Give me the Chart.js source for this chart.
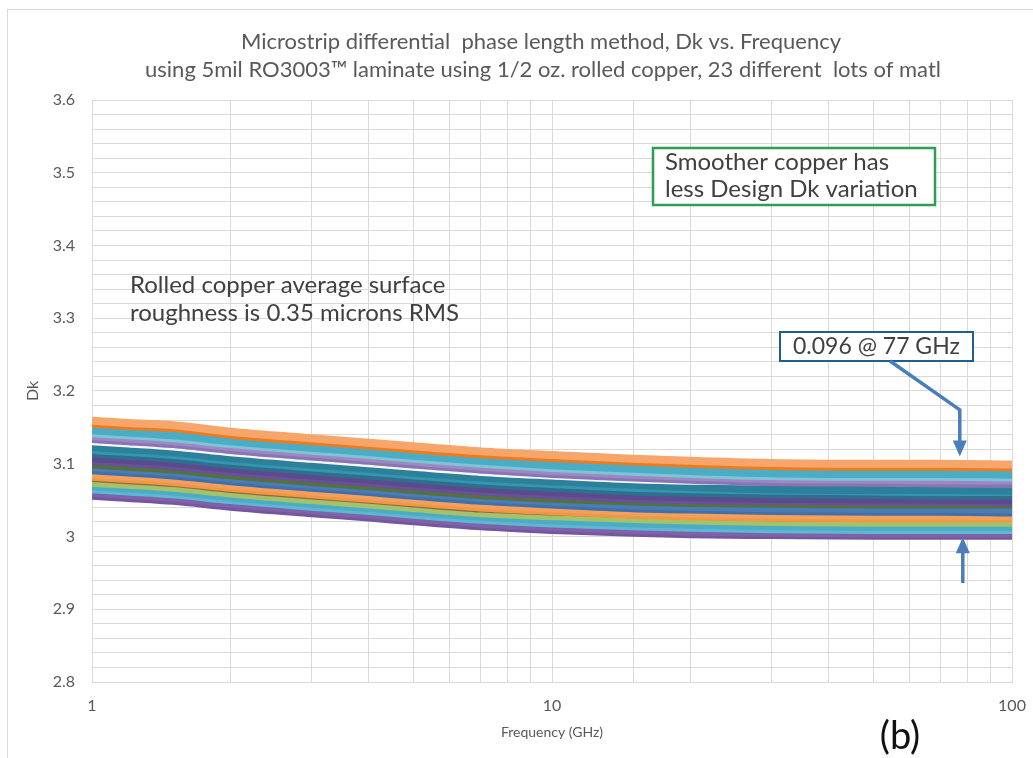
<!DOCTYPE html>
<html>
<head>
<meta charset="utf-8">
<script src="https://cdn.jsdelivr.net/npm/chart.js@4.4.0/dist/chart.umd.min.js"></script>
<style>
    html, body { margin: 0; padding: 0; background: #fff; }
    #wrap { width: 1033px; height: 758px; }
</style>
</head>
<body>
<div id="wrap"><canvas id="dkChart" width="1033" height="758"></canvas></div>
<script>
// Frequency points (GHz) read along the x axis
const freqs = [1, 1.2, 1.5, 2, 3, 4, 5, 7, 10, 15, 20, 30, 50, 70, 100];

// Dk for each of the 23 material lots, top of the bundle to bottom
const lot01 = [3.159, 3.156, 3.153, 3.144, 3.135, 3.129, 3.124, 3.117, 3.112, 3.107, 3.104, 3.101, 3.100, 3.100, 3.099];
const lot02 = [3.155, 3.152, 3.149, 3.140, 3.131, 3.125, 3.120, 3.113, 3.108, 3.103, 3.100, 3.097, 3.096, 3.096, 3.095];
const lot03 = [3.146, 3.143, 3.139, 3.131, 3.122, 3.116, 3.111, 3.104, 3.098, 3.093, 3.090, 3.087, 3.086, 3.086, 3.085];
const lot04 = [3.142, 3.139, 3.135, 3.127, 3.118, 3.112, 3.107, 3.100, 3.094, 3.089, 3.086, 3.083, 3.082, 3.082, 3.081];
const lot05 = [3.138, 3.135, 3.131, 3.123, 3.114, 3.108, 3.103, 3.096, 3.090, 3.085, 3.082, 3.079, 3.078, 3.077, 3.077];
const lot06 = [3.134, 3.131, 3.127, 3.119, 3.110, 3.104, 3.099, 3.092, 3.086, 3.081, 3.078, 3.075, 3.074, 3.073, 3.072];
const lot07 = [3.127, 3.124, 3.120, 3.112, 3.103, 3.097, 3.092, 3.085, 3.080, 3.075, 3.073, 3.072, 3.071, 3.070, 3.070];
const lot08 = [3.123, 3.120, 3.116, 3.108, 3.099, 3.093, 3.088, 3.081, 3.076, 3.071, 3.068, 3.065, 3.064, 3.064, 3.063];
const lot09 = [3.119, 3.116, 3.112, 3.104, 3.095, 3.089, 3.084, 3.077, 3.072, 3.067, 3.065, 3.063, 3.062, 3.061, 3.061];
const lot10 = [3.114, 3.111, 3.107, 3.099, 3.090, 3.084, 3.079, 3.072, 3.067, 3.062, 3.060, 3.058, 3.057, 3.056, 3.056];
const lot11 = [3.108, 3.105, 3.101, 3.093, 3.084, 3.078, 3.073, 3.066, 3.061, 3.056, 3.054, 3.052, 3.051, 3.051, 3.050];
const lot12 = [3.104, 3.101, 3.097, 3.089, 3.080, 3.074, 3.069, 3.062, 3.057, 3.052, 3.050, 3.049, 3.048, 3.048, 3.047];
const lot13 = [3.099, 3.096, 3.092, 3.084, 3.075, 3.069, 3.064, 3.057, 3.052, 3.048, 3.046, 3.045, 3.044, 3.044, 3.044];
const lot14 = [3.095, 3.092, 3.088, 3.080, 3.071, 3.065, 3.060, 3.053, 3.048, 3.043, 3.041, 3.039, 3.038, 3.038, 3.037];
const lot15 = [3.091, 3.088, 3.084, 3.076, 3.067, 3.061, 3.056, 3.049, 3.044, 3.039, 3.037, 3.035, 3.034, 3.034, 3.033];
const lot16 = [3.086, 3.083, 3.079, 3.071, 3.062, 3.056, 3.051, 3.044, 3.039, 3.034, 3.032, 3.030, 3.029, 3.029, 3.028];
const lot17 = [3.082, 3.079, 3.075, 3.067, 3.058, 3.052, 3.047, 3.040, 3.035, 3.030, 3.028, 3.026, 3.025, 3.025, 3.025];
const lot18 = [3.077, 3.074, 3.070, 3.062, 3.053, 3.047, 3.042, 3.035, 3.031, 3.027, 3.025, 3.023, 3.022, 3.022, 3.022];
const lot19 = [3.074, 3.071, 3.067, 3.059, 3.050, 3.044, 3.039, 3.032, 3.028, 3.024, 3.022, 3.020, 3.019, 3.019, 3.019];
const lot20 = [3.069, 3.066, 3.062, 3.054, 3.045, 3.039, 3.034, 3.027, 3.022, 3.018, 3.016, 3.014, 3.013, 3.013, 3.013];
const lot21 = [3.065, 3.062, 3.058, 3.050, 3.041, 3.035, 3.030, 3.023, 3.018, 3.014, 3.012, 3.010, 3.009, 3.009, 3.009];
const lot22 = [3.060, 3.057, 3.053, 3.045, 3.036, 3.030, 3.025, 3.018, 3.013, 3.009, 3.007, 3.005, 3.004, 3.004, 3.004];
const lot23 = [3.056, 3.053, 3.049, 3.041, 3.032, 3.026, 3.021, 3.014, 3.009, 3.005, 3.003, 3.002, 3.001, 3.001, 3.001];

const lots = [lot01, lot02, lot03, lot04, lot05, lot06, lot07, lot08, lot09, lot10, lot11, lot12,
              lot13, lot14, lot15, lot16, lot17, lot18, lot19, lot20, lot21, lot22, lot23];

const lotColors = ['#f6a66a', '#ee7b1c', '#4bacc6', '#7fc3d6', '#9c88c2', '#8a74b5', '#f7f7f7', '#2c8099',
                   '#3395b0', '#2f6e8e', '#5d4a8c', '#67519c', '#56703e', '#4a7db8', '#3f70a9', '#f5a05a',
                   '#f29647', '#8e6b3f', '#a3c26a', '#4bacc6', '#5eb8d3', '#7f62a8', '#7457a0'];

// Axis ticks
const xTickLabels = [1, 10, 100];
const yMin = 2.8, yMax = 3.6, yStep = 0.02;

const textFont = 'Lato, "Open Sans", sans-serif';
const grey = '#595959';

// Build datasets, first one is drawn on top
const datasets = lots.map(function (vals, i) {
    let w = 8;
    if (i === 6) w = 2.5;
    if (i === 17) w = 3;
    return {
        label: 'Lot ' + (i + 1),
        data: freqs.map((f, j) => ({ x: f, y: vals[j] })),
        borderColor: lotColors[i],
        borderWidth: w,
        pointRadius: 0,
        cubicInterpolationMode: 'monotone',
        fill: false
    };
});

// Draws the frame, title, text boxes, arrows and the panel letter
const decorations = {
    id: 'decorations',
    afterDraw(chart) {
        const ctx = chart.ctx;
        const xs = chart.scales.x, ys = chart.scales.y;
        ctx.save();

        // outer frame
        ctx.strokeStyle = '#d9d9d9';
        ctx.lineWidth = 1;
        ctx.strokeRect(7.5, 9.5, 1100, 900);

        // title
        ctx.fillStyle = grey;
        ctx.font = '22px ' + textFont;
        ctx.textAlign = 'center';
        ctx.textBaseline = 'middle';
        ctx.fillText('Microstrip differential  phase length method, Dk vs. Frequency', 541, 42);
        ctx.fillText('using 5mil RO3003\u2122 laminate using 1/2 oz. rolled copper, 23 different  lots of matl', 543, 70);

        // left note
        ctx.fillStyle = '#404040';
        ctx.font = '24px ' + textFont;
        ctx.textAlign = 'left';
        ctx.fillText('Rolled copper average surface', 130, 285);
        ctx.fillText('roughness is 0.35 microns RMS', 130, 313);

        // green box
        ctx.fillStyle = '#fff';
        ctx.fillRect(653, 148, 282, 57);
        ctx.strokeStyle = '#2f9e55';
        ctx.lineWidth = 2.5;
        ctx.strokeRect(653, 148, 282, 57);
        ctx.fillStyle = '#404040';
        ctx.fillText('Smoother copper has', 665, 162);
        ctx.fillText('less Design Dk variation', 665, 189);

        // blue box
        ctx.fillStyle = '#fff';
        ctx.fillRect(780, 332, 193, 29);
        ctx.strokeStyle = '#1f5f8e';
        ctx.lineWidth = 2;
        ctx.strokeRect(780, 332, 193, 29);
        ctx.fillStyle = '#404040';
        ctx.font = '23px ' + textFont;
        ctx.fillText('0.096 @ 77 GHz', 793, 347);

        // arrows at 77 GHz
        const ax = xs.getPixelForValue(77);
        ctx.strokeStyle = '#4a7ebb';
        ctx.fillStyle = '#4a7ebb';
        ctx.lineWidth = 3.5;
        const tipTop = ys.getPixelForValue(3.110);
        ctx.beginPath();
        ctx.moveTo(890, 361);
        ctx.lineTo(ax, ys.getPixelForValue(3.174));
        ctx.lineTo(ax, tipTop - 14);
        ctx.stroke();
        ctx.beginPath();
        ctx.moveTo(ax, tipTop);
        ctx.lineTo(ax - 7, tipTop - 16);
        ctx.lineTo(ax + 7, tipTop - 16);
        ctx.closePath();
        ctx.fill();

        const bx = ax + 3;
        const tipBot = ys.getPixelForValue(2.999);
        ctx.beginPath();
        ctx.moveTo(bx, ys.getPixelForValue(2.936));
        ctx.lineTo(bx, tipBot + 14);
        ctx.stroke();
        ctx.beginPath();
        ctx.moveTo(bx, tipBot);
        ctx.lineTo(bx - 7, tipBot + 16);
        ctx.lineTo(bx + 7, tipBot + 16);
        ctx.closePath();
        ctx.fill();

        // panel letter
        ctx.fillStyle = '#111';
        ctx.font = '38px ' + textFont;
        ctx.textAlign = 'center';
        ctx.fillText('(b)', 900, 737);

        ctx.restore();
    }
};

new Chart(document.getElementById('dkChart'), {
    type: 'line',
    data: { datasets: datasets },
    options: {
        responsive: false,
        devicePixelRatio: 1,
        animation: false,
        layout: { padding: { top: 100, right: 21, left: 0, bottom: 0 } },
        plugins: {
            legend: { display: false },
            title: { display: false },
            tooltip: { enabled: false }
        },
        scales: {
            x: {
                type: 'logarithmic',
                min: 1,
                max: 100,
                grid: { color: '#d9d9d9', drawTicks: false },
                border: { color: '#d9d9d9' },
                ticks: {
                    autoSkip: false,
                    maxRotation: 0,
                    padding: 14,
                    color: grey,
                    font: { family: textFont, size: 16 },
                    callback: v => xTickLabels.includes(v) ? String(v) : ''
                },
                title: {
                    display: true,
                    text: 'Frequency (GHz)',
                    color: grey,
                    font: { family: textFont, size: 14 },
                    padding: { top: 0, bottom: 17 }
                },
                afterFit: s => { s.height = 76; s.paddingLeft = 0; s.paddingRight = 0; }
            },
            y: {
                type: 'linear',
                min: yMin,
                max: yMax,
                grid: { color: '#d9d9d9', drawTicks: false },
                border: { color: '#d9d9d9' },
                ticks: {
                    stepSize: yStep,
                    autoSkip: false,
                    padding: 17,
                    color: grey,
                    font: { family: textFont, size: 16 },
                    callback: v => Math.round(v * 100) % 10 === 0 ? String(+v.toFixed(1)) : ''
                },
                title: {
                    display: true,
                    text: 'Dk',
                    color: grey,
                    font: { family: textFont, size: 16 },
                    padding: { top: 23, bottom: 0 }
                },
                afterFit: s => { s.width = 92; s.paddingTop = 0; s.paddingBottom = 0; }
            }
        }
    },
    plugins: [decorations]
});
</script>
</body>
</html>
